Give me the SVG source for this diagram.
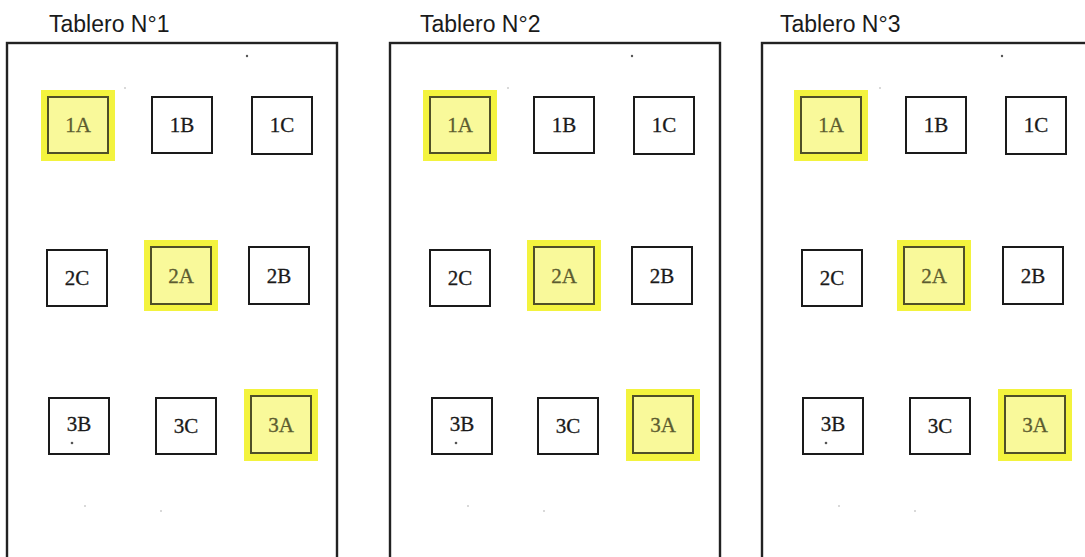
<svg xmlns="http://www.w3.org/2000/svg" width="1085" height="557" viewBox="0 0 1085 557">
<style>
.title{font-family:"Liberation Sans",Arial,sans-serif;font-size:23px;fill:#1a1a1a}
.panel{fill:#fff;stroke:#222;stroke-width:2.4}
.box{fill:#fff;stroke:#1a1a1a;stroke-width:2}
.hl{fill:#f3f33e;stroke:none}
.hbox{fill:#f9f99a;stroke:#4f4f28;stroke-width:2}
.lbl{font-family:"Liberation Serif","Times New Roman",serif;font-size:21px;fill:#1a1a1a;text-anchor:middle;stroke:#1a1a1a;stroke-width:0.3}
.hlbl{font-family:"Liberation Serif","Times New Roman",serif;font-size:21px;fill:#5c5c30;text-anchor:middle;stroke:#5c5c30;stroke-width:0.3}
.dot{fill:#555}
.fdot{fill:#ccc}
</style>
<rect width="1085" height="557" fill="#fff"/>

<g id="panel1">
<text class="title" x="49" y="32">Tablero N°1</text>
<rect class="panel" x="7" y="43" width="330" height="530"/>
<circle class="dot" cx="247" cy="56" r="1.2"/><circle class="fdot" cx="125" cy="88" r="1"/>
<circle class="fdot" cx="85" cy="506" r="1"/><circle class="fdot" cx="161" cy="511" r="1"/>
<g id="p1-1A"><rect class="hl" x="41" y="90" width="74" height="71"/><rect class="hbox" x="48" y="97" width="60" height="56"/><text class="hlbl" x="78" y="132">1A</text></g>
<g id="p1-1B"><rect class="box" x="152" y="97" width="60" height="56"/><text class="lbl" x="182" y="132">1B</text></g>
<g id="p1-1C"><rect class="box" x="252" y="97" width="60" height="57"/><text class="lbl" x="282" y="132">1C</text></g>
<g id="p1-2C"><rect class="box" x="47" y="250" width="60" height="56"/><text class="lbl" x="77" y="285">2C</text></g>
<g id="p1-2A"><rect class="hl" x="144" y="240" width="74" height="71"/><rect class="hbox" x="151" y="247" width="60" height="57"/><text class="hlbl" x="181" y="283">2A</text></g>
<g id="p1-2B"><rect class="box" x="249" y="247" width="60" height="57"/><text class="lbl" x="279" y="283">2B</text></g>
<g id="p1-3B"><rect class="box" x="49" y="398" width="60" height="56"/><text class="lbl" x="79" y="431">3B</text><circle class="dot" cx="72" cy="443" r="1.3"/></g>
<g id="p1-3C"><rect class="box" x="156" y="398" width="60" height="56"/><text class="lbl" x="186" y="433">3C</text></g>
<g id="p1-3A"><rect class="hl" x="244" y="389" width="74" height="72"/><rect class="hbox" x="251" y="396" width="60" height="57"/><text class="hlbl" x="281" y="432">3A</text></g>
</g>

<g id="panel2">
<text class="title" x="420" y="32">Tablero N°2</text>
<rect class="panel" x="390" y="43" width="330" height="530"/>
<circle class="dot" cx="632" cy="56" r="1.2"/><circle class="fdot" cx="508" cy="88" r="1"/>
<circle class="fdot" cx="468" cy="506" r="1"/><circle class="fdot" cx="544" cy="511" r="1"/>
<g id="p2-1A"><rect class="hl" x="423" y="90" width="74" height="71"/><rect class="hbox" x="430" y="97" width="60" height="56"/><text class="hlbl" x="460" y="132">1A</text></g>
<g id="p2-1B"><rect class="box" x="534" y="97" width="60" height="56"/><text class="lbl" x="564" y="132">1B</text></g>
<g id="p2-1C"><rect class="box" x="634" y="97" width="60" height="57"/><text class="lbl" x="664" y="132">1C</text></g>
<g id="p2-2C"><rect class="box" x="430" y="250" width="60" height="56"/><text class="lbl" x="460" y="285">2C</text></g>
<g id="p2-2A"><rect class="hl" x="527" y="240" width="74" height="71"/><rect class="hbox" x="534" y="247" width="60" height="57"/><text class="hlbl" x="564" y="283">2A</text></g>
<g id="p2-2B"><rect class="box" x="632" y="247" width="60" height="57"/><text class="lbl" x="662" y="283">2B</text></g>
<g id="p2-3B"><rect class="box" x="432" y="398" width="60" height="56"/><text class="lbl" x="462" y="431">3B</text><circle class="dot" cx="456" cy="443" r="1.3"/></g>
<g id="p2-3C"><rect class="box" x="538" y="398" width="60" height="56"/><text class="lbl" x="568" y="433">3C</text></g>
<g id="p2-3A"><rect class="hl" x="626" y="389" width="74" height="72"/><rect class="hbox" x="633" y="396" width="60" height="57"/><text class="hlbl" x="663" y="432">3A</text></g>
</g>

<g id="panel3">
<text class="title" x="780" y="32">Tablero N°3</text>
<rect class="panel" x="762" y="43" width="330" height="530"/>
<circle class="dot" cx="1002" cy="56" r="1.2"/><circle class="fdot" cx="880" cy="88" r="1"/>
<circle class="fdot" cx="839" cy="506" r="1"/><circle class="fdot" cx="915" cy="511" r="1"/>
<g id="p3-1A"><rect class="hl" x="794" y="90" width="74" height="71"/><rect class="hbox" x="801" y="97" width="60" height="56"/><text class="hlbl" x="831" y="132">1A</text></g>
<g id="p3-1B"><rect class="box" x="906" y="97" width="60" height="56"/><text class="lbl" x="936" y="132">1B</text></g>
<g id="p3-1C"><rect class="box" x="1006" y="97" width="60" height="57"/><text class="lbl" x="1036" y="132">1C</text></g>
<g id="p3-2C"><rect class="box" x="802" y="250" width="60" height="56"/><text class="lbl" x="832" y="285">2C</text></g>
<g id="p3-2A"><rect class="hl" x="897" y="240" width="74" height="71"/><rect class="hbox" x="904" y="247" width="60" height="57"/><text class="hlbl" x="934" y="283">2A</text></g>
<g id="p3-2B"><rect class="box" x="1003" y="247" width="60" height="57"/><text class="lbl" x="1033" y="283">2B</text></g>
<g id="p3-3B"><rect class="box" x="803" y="398" width="60" height="56"/><text class="lbl" x="833" y="431">3B</text><circle class="dot" cx="826" cy="443" r="1.3"/></g>
<g id="p3-3C"><rect class="box" x="910" y="398" width="60" height="56"/><text class="lbl" x="940" y="433">3C</text></g>
<g id="p3-3A"><rect class="hl" x="998" y="389" width="74" height="72"/><rect class="hbox" x="1005" y="396" width="60" height="57"/><text class="hlbl" x="1035" y="432">3A</text></g>
</g>

<g id="connectors"></g>
</svg>
